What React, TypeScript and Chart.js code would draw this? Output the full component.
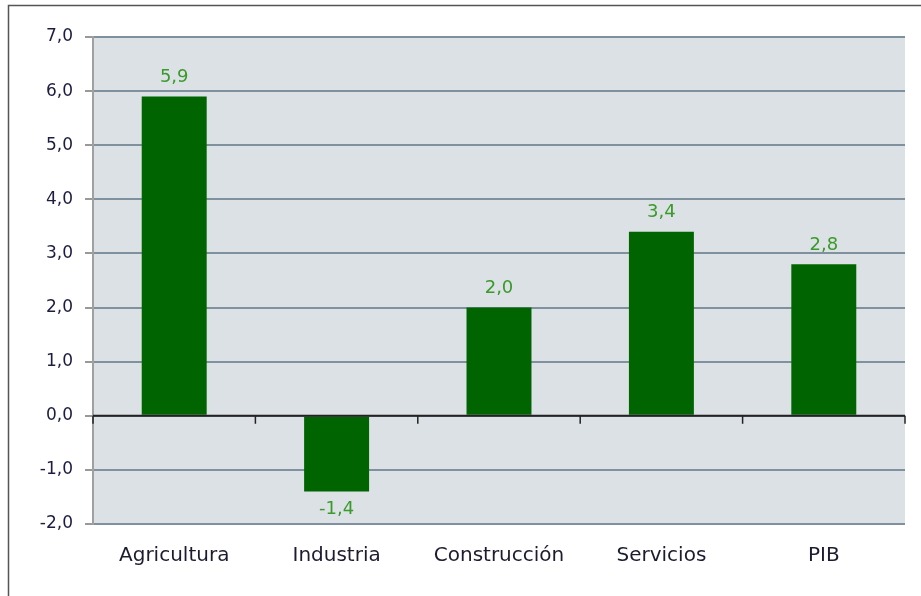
import React, { useEffect, useRef } from "react";
import { Chart, registerables } from "chart.js";

Chart.register(...registerables);

const categories = ["Agricultura", "Industria", "Construcción", "Servicios", "PIB"];
const values = [5.9, -1.4, 2.0, 3.4, 2.8];
const yMin = -2;
const yMax = 7;
const yStep = 1;

const FONT = "'DejaVu Sans', Verdana, sans-serif";

const fmt = (v: number) => v.toFixed(1).replace(".", ",");

const framePlugin = {
  id: "frameBg",
  beforeDraw(chart: any) {
    const { ctx, chartArea } = chart;
    ctx.save();
    ctx.fillStyle = "#ffffff";
    ctx.fillRect(0, 0, chart.width, chart.height);
    ctx.fillStyle = "#dbe1e5";
    ctx.fillRect(chartArea.left, chartArea.top, chartArea.right - chartArea.left, chartArea.bottom - chartArea.top);
    ctx.strokeStyle = "#555555";
    ctx.lineWidth = 1.5;
    ctx.beginPath();
    ctx.moveTo(8.5, chart.height);
    ctx.lineTo(8.5, 5.5);
    ctx.lineTo(chart.width, 5.5);
    ctx.stroke();
    ctx.restore();
  },
  afterDatasetsDraw(chart: any) {
    const { ctx, chartArea } = chart;
    const y = chart.scales.y;
    const y0 = y.getPixelForValue(0);
    ctx.save();
    ctx.strokeStyle = "#222222";
    ctx.lineWidth = 2;
    ctx.beginPath();
    ctx.moveTo(chartArea.left, y0);
    ctx.lineTo(chartArea.right, y0);
    ctx.stroke();
    ctx.lineWidth = 1.5;
    const n = categories.length;
    for (let i = 0; i <= n; i++) {
      const px = chartArea.left + ((chartArea.right - chartArea.left) * i) / n;
      ctx.beginPath();
      ctx.moveTo(px, y0);
      ctx.lineTo(px, y0 + 8);
      ctx.stroke();
    }
    ctx.fillStyle = "#3a9a2a";
    ctx.font = `18px ${FONT}`;
    ctx.textAlign = "center";
    ctx.textBaseline = "middle";
    const meta = chart.getDatasetMeta(0);
    meta.data.forEach((bar: any, i: number) => {
      const v = values[i];
      const ly = v >= 0 ? bar.y - 19 : bar.y + 18;
      ctx.fillText(fmt(v), bar.x, ly);
    });
    ctx.restore();
  },
};

export default function App() {
  const ref = useRef<HTMLCanvasElement | null>(null);
  useEffect(() => {
    document.body.style.margin = "0";
    const chart = new Chart(ref.current as HTMLCanvasElement, {
      type: "bar",
      data: {
        labels: categories,
        datasets: [
          {
            data: values,
            backgroundColor: "#006400",
            borderWidth: 0,
            barPercentage: 0.4,
            categoryPercentage: 1,
          },
        ],
      },
      options: {
        animation: false,
        responsive: false,
        maintainAspectRatio: false,
        layout: { padding: { top: 37, right: 16, left: 0, bottom: 0 } },
        plugins: { legend: { display: false }, tooltip: { enabled: false } },
        scales: {
          y: {
            min: yMin,
            max: yMax,
            ticks: {
              stepSize: yStep,
              color: "#1c1c40",
              font: { size: 17, family: FONT },
              padding: 12,
              callback: (v: any) => fmt(Number(v)),
            },
            grid: {
              color: "#7f919f",
              lineWidth: 2,
              tickLength: 8,
              tickColor: "#999999",
              drawOnChartArea: true,
            },
            border: { display: true, color: "#a0a0a0", width: 2 },
            afterFit: (s: any) => {
              s.width = 93;
            },
          },
          x: {
            ticks: {
              color: "#1c1c30",
              font: { size: 20, family: FONT },
              padding: 12,
            },
            grid: { display: false },
            border: { display: false },
            afterFit: (s: any) => {
              s.height = 72;
            },
          },
        },
      },
      plugins: [framePlugin],
    });
    return () => chart.destroy();
  }, []);
  return (
    <div style={{ width: 921, height: 596 }}>
      <canvas ref={ref} width={921} height={596} style={{ display: "block" }} />
    </div>
  );
}
